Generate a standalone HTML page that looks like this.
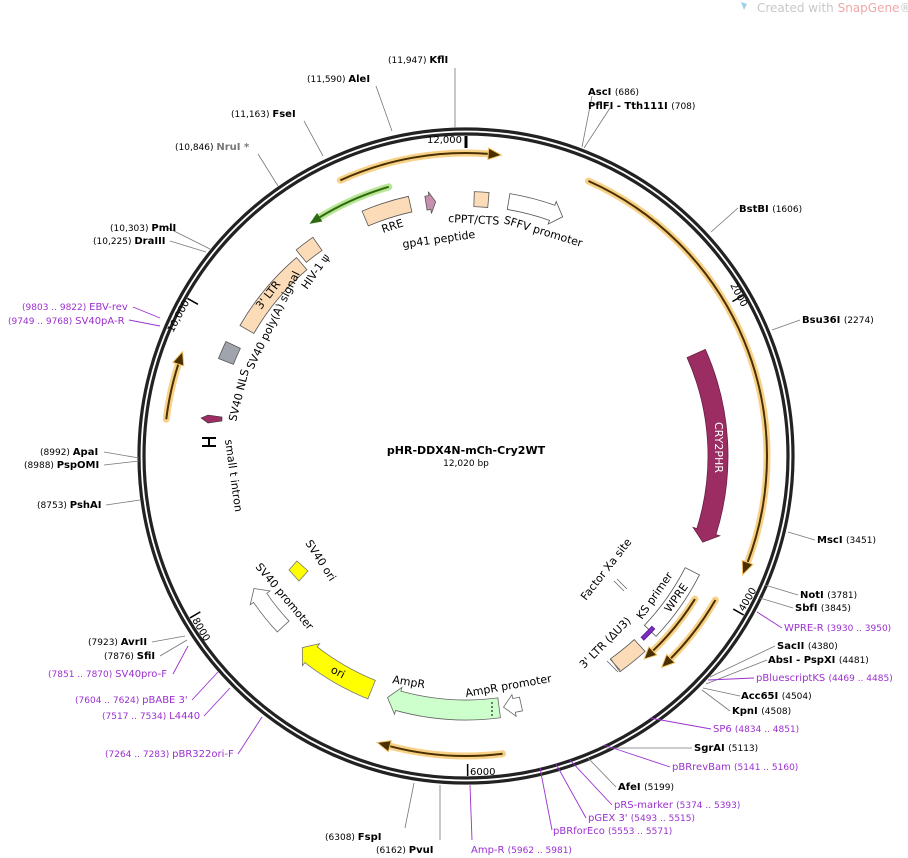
<!DOCTYPE html>
<html><head><meta charset="utf-8"><style>
html,body{margin:0;padding:0;background:#fff;}
svg{display:block;font-family:"DejaVu Sans","Liberation Sans",sans-serif;}
.b{font-weight:bold;fill:#000;font-size:10px}
.n{fill:#000;font-size:9px}
.p{fill:#9b30d0;font-size:10px}
.pn{fill:#9b30d0;font-size:9px}
.f{font-size:11px;fill:#000}
</style></head><body>
<svg id="s" width="908" height="858" viewBox="0 0 908 858" xmlns="http://www.w3.org/2000/svg">
<g id="shapes"></g>
<text x="757" y="12" font-size="12" fill="#c8c8c8">Created with <tspan fill="#f0a8a8">SnapGene</tspan>®</text>
<path d="M741 2 l3 8 l3 -6 z" fill="#9fd0ee"/>

<g stroke="#777" stroke-width="0.8" fill="none">
<path d="M455 127 L455 68"/><path d="M392 131 L376 86"/><path d="M323 156 L304 121"/>
<path d="M278 186 L258 154"/><path d="M210 249 L168 228"/><path d="M206 252 L170 241"/>
<path d="M139 458 L104 452"/><path d="M139 461 L104 465"/><path d="M140 500 L106 505"/>
<path d="M185 636 L152 642"/><path d="M187 640 L160 656"/>
<path d="M414 783 L405 828"/><path d="M440 785 L440 840"/>
<path d="M582 147 L592 96"/><path d="M584 148 L610 108"/><path d="M711 232 L738 208"/>
<path d="M772 330 L800 320"/><path d="M788 532 L815 540"/><path d="M765 585 L798 595"/>
<path d="M760 598 L793 608"/><path d="M710 677 L775 646"/><path d="M706 684 L767 660"/>
<path d="M703 688 L740 696"/><path d="M702 690 L730 711"/><path d="M606 748 L692 748"/>
<path d="M588 758 L616 787"/>
</g>
<g stroke="#9b30d0" stroke-width="0.9" fill="none">
<path d="M160 318 L133 307"/><path d="M160 326 L129 320"/><path d="M188 646 L173 674"/>
<path d="M218 672 L192 700"/><path d="M230 688 L204 716"/><path d="M262 717 L238 754"/>
<path d="M470 785 L472 840"/><path d="M540 768 L552 830"/><path d="M556 764 L586 818"/>
<path d="M570 760 L612 805"/><path d="M604 745 L670 767"/><path d="M650 718 L711 729"/>
<path d="M708 680 L754 678"/><path d="M757 612 L782 628"/>
</g>

<text x="388" y="63"><tspan class="n">(11,947) </tspan><tspan class="b">KflI</tspan></text>
<text x="307" y="82"><tspan class="n">(11,590) </tspan><tspan class="b">AleI</tspan></text>
<text x="231" y="117"><tspan class="n">(11,163) </tspan><tspan class="b">FseI</tspan></text>
<text x="175" y="150"><tspan class="n">(10,846) </tspan><tspan class="b" style="fill:#777">NruI *</tspan></text>
<text x="110" y="231"><tspan class="n">(10,303) </tspan><tspan class="b">PmlI</tspan></text>
<text x="93" y="244"><tspan class="n">(10,225) </tspan><tspan class="b">DraIII</tspan></text>
<text x="22" y="310"><tspan class="pn">(9803 .. 9822) </tspan><tspan class="p">EBV-rev</tspan></text>
<text x="8" y="324"><tspan class="pn">(9749 .. 9768) </tspan><tspan class="p">SV40pA-R</tspan></text>
<text x="40" y="455"><tspan class="n">(8992) </tspan><tspan class="b">ApaI</tspan></text>
<text x="24" y="468"><tspan class="n">(8988) </tspan><tspan class="b">PspOMI</tspan></text>
<text x="37" y="508"><tspan class="n">(8753) </tspan><tspan class="b">PshAI</tspan></text>
<text x="88" y="645"><tspan class="n">(7923) </tspan><tspan class="b">AvrII</tspan></text>
<text x="104" y="659"><tspan class="n">(7876) </tspan><tspan class="b">SfiI</tspan></text>
<text x="48" y="677"><tspan class="pn">(7851 .. 7870) </tspan><tspan class="p">SV40pro-F</tspan></text>
<text x="75" y="703"><tspan class="pn">(7604 .. 7624) </tspan><tspan class="p">pBABE 3'</tspan></text>
<text x="102" y="719"><tspan class="pn">(7517 .. 7534) </tspan><tspan class="p">L4440</tspan></text>
<text x="105" y="757"><tspan class="pn">(7264 .. 7283) </tspan><tspan class="p">pBR322ori-F</tspan></text>
<text x="325" y="840"><tspan class="n">(6308) </tspan><tspan class="b">FspI</tspan></text>
<text x="376" y="853"><tspan class="n">(6162) </tspan><tspan class="b">PvuI</tspan></text>
<text x="471" y="853"><tspan class="p">Amp-R </tspan><tspan class="pn">(5962 .. 5981)</tspan></text>
<text x="553" y="834"><tspan class="p">pBRforEco </tspan><tspan class="pn">(5553 .. 5571)</tspan></text>
<text x="588" y="821"><tspan class="p">pGEX 3' </tspan><tspan class="pn">(5493 .. 5515)</tspan></text>
<text x="614" y="808"><tspan class="p">pRS-marker </tspan><tspan class="pn">(5374 .. 5393)</tspan></text>
<text x="618" y="790"><tspan class="b">AfeI </tspan><tspan class="n">(5199)</tspan></text>
<text x="672" y="770"><tspan class="p">pBRrevBam </tspan><tspan class="pn">(5141 .. 5160)</tspan></text>
<text x="694" y="751"><tspan class="b">SgrAI </tspan><tspan class="n">(5113)</tspan></text>
<text x="713" y="732"><tspan class="p">SP6 </tspan><tspan class="pn">(4834 .. 4851)</tspan></text>
<text x="732" y="714"><tspan class="b">KpnI </tspan><tspan class="n">(4508)</tspan></text>
<text x="741" y="699"><tspan class="b">Acc65I </tspan><tspan class="n">(4504)</tspan></text>
<text x="756" y="681"><tspan class="p">pBluescriptKS </tspan><tspan class="pn">(4469 .. 4485)</tspan></text>
<text x="768" y="663"><tspan class="b">AbsI </tspan><tspan class="b">- PspXI </tspan><tspan class="n">(4481)</tspan></text>
<text x="777" y="649"><tspan class="b">SacII </tspan><tspan class="n">(4380)</tspan></text>
<text x="784" y="631"><tspan class="p">WPRE-R </tspan><tspan class="pn">(3930 .. 3950)</tspan></text>
<text x="795" y="611"><tspan class="b">SbfI </tspan><tspan class="n">(3845)</tspan></text>
<text x="800" y="598"><tspan class="b">NotI </tspan><tspan class="n">(3781)</tspan></text>
<text x="817" y="543"><tspan class="b">MscI </tspan><tspan class="n">(3451)</tspan></text>
<text x="802" y="323"><tspan class="b">Bsu36I </tspan><tspan class="n">(2274)</tspan></text>
<text x="739" y="212"><tspan class="b">BstBI </tspan><tspan class="n">(1606)</tspan></text>
<text x="588" y="95"><tspan class="b">AscI </tspan><tspan class="n">(686)</tspan></text>
<text x="588" y="109"><tspan class="b">PflFI </tspan><tspan class="b">- Tth111I </tspan><tspan class="n">(708)</tspan></text>

<text x="466" y="454" text-anchor="middle" font-size="11" font-weight="bold">pHR-DDX4N-mCh-Cry2WT</text>
<text x="466" y="466" text-anchor="middle" font-size="9">12,020 bp</text>

<text x="427" y="143" font-size="10">12,000</text>
<text x="730" y="285" font-size="10" transform="rotate(62 730 285)">2000</text>
<text x="744" y="612" font-size="10" transform="rotate(-60 744 612)">4000</text>
<text x="470" y="775" font-size="10">6000</text>
<text x="192" y="620" font-size="10" transform="rotate(60 192 620)">8000</text>
<text x="173" y="333" font-size="10" transform="rotate(-62 173 333)">10,000</text>

<text class="f" x="715" y="422" style="fill:#fff" transform="rotate(90 715 422)">CRY2PHR</text>
<text class="f" x="383" y="233" transform="rotate(-18 383 233)">RRE</text>
<text class="f" x="403" y="248" transform="rotate(-8 403 248)">gp41 peptide</text>
<text class="f" x="448" y="222" transform="rotate(3 448 222)">cPPT/CTS</text>
<text class="f" x="503" y="223" transform="rotate(17 503 223)">SFFV promoter</text>
<text class="f" x="307" y="290" transform="rotate(-55 307 290)">HIV-1 ψ</text>
<text class="f" x="261" y="310" transform="rotate(-52 261 310)">3' LTR</text>
<text class="f" x="253" y="370" transform="rotate(-64 253 370)">SV40 poly(A) signal</text>
<text class="f" x="236" y="422" transform="rotate(-76 236 422)">SV40 NLS</text>
<text class="f" x="225" y="440" transform="rotate(82 225 440)">small t intron</text>
<text class="f" x="305" y="543" transform="rotate(57 305 543)">SV40 ori</text>
<text class="f" x="255" y="567" transform="rotate(50 255 567)">SV40 promoter</text>
<text class="f" x="330" y="672" transform="rotate(28 330 672)">ori</text>
<text class="f" x="392" y="683" transform="rotate(9 392 683)">AmpR</text>
<text class="f" x="466" y="697" transform="rotate(-10 466 697)">AmpR promoter</text>
<text class="f" x="584" y="669" transform="rotate(-45 584 669)">3' LTR (ΔU3)</text>
<text class="f" x="642" y="620" transform="rotate(-55 642 620)">KS primer</text>
<text class="f" x="670" y="613" transform="rotate(-55 670 613)">WPRE</text>
<text class="f" x="586" y="601" transform="rotate(-52 586 601)">Factor Xa site</text>
</svg>
<script>
var cx=466,cy=456,NS="http://www.w3.org/2000/svg",g=document.getElementById("shapes");
function P(r,a){a=a*Math.PI/180;return [cx+r*Math.sin(a),cy-r*Math.cos(a)];}
function add(tag,at){var e=document.createElementNS(NS,tag);for(var k in at)e.setAttribute(k,at[k]);g.appendChild(e);return e;}
function arc(r,a1,a2){var s=P(r,a1),e=P(r,a2),sw=a2>a1?1:0,l=Math.abs(a2-a1)>180?1:0;return "M"+s[0]+" "+s[1]+" A"+r+" "+r+" 0 "+l+" "+sw+" "+e[0]+" "+e[1];}
function arcTo(r,a1,a2){var e=P(r,a2),sw=a2>a1?1:0,l=Math.abs(a2-a1)>180?1:0;return " A"+r+" "+r+" 0 "+l+" "+sw+" "+e[0]+" "+e[1];}
add("circle",{cx:cx,cy:cy,r:327,fill:"none",stroke:"#222","stroke-width":3.2});
add("circle",{cx:cx,cy:cy,r:322,fill:"none",stroke:"#222","stroke-width":3.2});
[[0,1],[2000,0],[4000,0],[6000,0],[8000,0],[10000,0]].forEach(function(t){var a=t[0]/12020*360;var p1=P(320,a),p2=P(308,a);add("line",{x1:p1[0],y1:p1[1],x2:p2[0],y2:p2[1],stroke:"#000","stroke-width":t[1]?3:1.5});});
function feat(r,w,a1,a2,dir,fill,stroke){var ri=r-w/2,ro=r+w/2,h=dir?Math.min(7*180/Math.PI/r*1.6,(a2-a1)*0.6):0,d;
 if(dir==1){var b=a2-h,t=P(r,a2),o1=P(ro+4,b),i1=P(ri-4,b);var s=P(ro,a1);d="M"+s+arcTo(ro,a1,b)+" L"+o1+" L"+t+" L"+i1+" L"+P(ri,b)+arcTo(ri,b,a1)+" Z";}
 else if(dir==-1){var b=a1+h,t=P(r,a1),s=P(ro,a2);d="M"+s+arcTo(ro,a2,b)+" L"+P(ro+4,b)+" L"+t+" L"+P(ri-4,b)+" L"+P(ri,b)+arcTo(ri,b,a2)+" Z";}
 else{d="M"+P(ro,a1)+arcTo(ro,a1,a2)+" L"+P(ri,a2)+arcTo(ri,a2,a1)+" Z";}
 add("path",{d:d,fill:fill,stroke:stroke||"#555","stroke-width":0.8});}
function orf(r,a1,a2,glow){var h=2.2,end=a2,b=a2-h;
 add("path",{d:arc(r,a1,b),fill:"none",stroke:glow,"stroke-width":7,"stroke-linecap":"round",opacity:0.8});
 add("path",{d:arc(r,a1,b),fill:"none",stroke:"#4a3000","stroke-width":2});
 var t=P(r,end),o=P(r+5,b),i=P(r-5,b);
 add("path",{d:"M"+t+" L"+o+" L"+i+" Z",fill:"#4a3000",stroke:glow,"stroke-width":2});
 add("path",{d:"M"+t+" L"+o+" L"+i+" Z",fill:"#4a3000"});}
function orfR(r,a1,a2,glow,col){
 var b=a1+2.5;add("path",{d:arc(r,b,a2),fill:"none",stroke:glow,"stroke-width":7,"stroke-linecap":"round",opacity:0.8});
 add("path",{d:arc(r,b,a2),fill:"none",stroke:col,"stroke-width":2});
 var t=P(r,a1),o=P(r+5,b),i=P(r-5,b);add("path",{d:"M"+t+" L"+o+" L"+i+" Z",fill:col});}
var OR="#f6c66a";
orf(301,24,113,OR);
orf(288,120,137,OR);
orf(270,122,138.5,OR);
orf(300,173,197,OR);
orf(302,277,290,OR);
orf(303,335.5,366.5,OR);
orfR(280,326,344,"#a6e07a","#2e6a10");
feat(252,20,66,110,1,"#9b2d63","#6a1e44");
feat(258,16,9.5,22,1,"#fff","#555");
feat(257,15,1.8,5,0,"#fcdcb8","#555");
feat(256,14,351,353.2,1,"#c890b0","#555");
feat(258,16,337,347.5,0,"#fcdcb8","#555");
feat(259,16,320.5,325,0,"#fcdcb8","#555");
feat(253,16,300,319.5,0,"#fcdcb8","#555");
feat(258,16,291.5,295.5,0,"#a0a4ac","#555");
feat(254,16,117,133.5,0,"#fff","#555");
feat(254,4,132.5,136,0,"#7b2bc0","#5a1a90");
feat(257,16,137.5,144.5,0,"#fcdcb8","#555");
feat(250,16,227,238,1,"#fff","#666");
feat(252,20,202,220.5,1,"#ffff00","#777");
feat(254,20,172.5,198,1,"#ccffcc","#666");
feat(254,14,167.5,171.5,1,"#fff","#666");
// SV40 small pink arrow (horizontal)
add("path",{d:"M201 418 L208 415 L222 417 L222 421 L208 423 Z",fill:"#9b2d63",stroke:"#333","stroke-width":0.6});
add("path",{d:"M202 438 L216 438 M202 446 L216 446 M209 438 L209 446",stroke:"#000","stroke-width":2});
add("path",{d:"M297 561 L308 571 L299 581 L289 570 Z",fill:"#ffff00",stroke:"#777","stroke-width":0.8});
add("path",{d:"M614 581 L624 591 M617 579 L627 589",stroke:"#666","stroke-width":0.8});
add("path",{d:"M607 661 L618 672 M610 659 L620 670",stroke:"#666","stroke-width":0.8});
add("path",{d:"M492 702 L492 716",stroke:"#000","stroke-width":1,"stroke-dasharray":"2 2"});
</script>
</body></html>
